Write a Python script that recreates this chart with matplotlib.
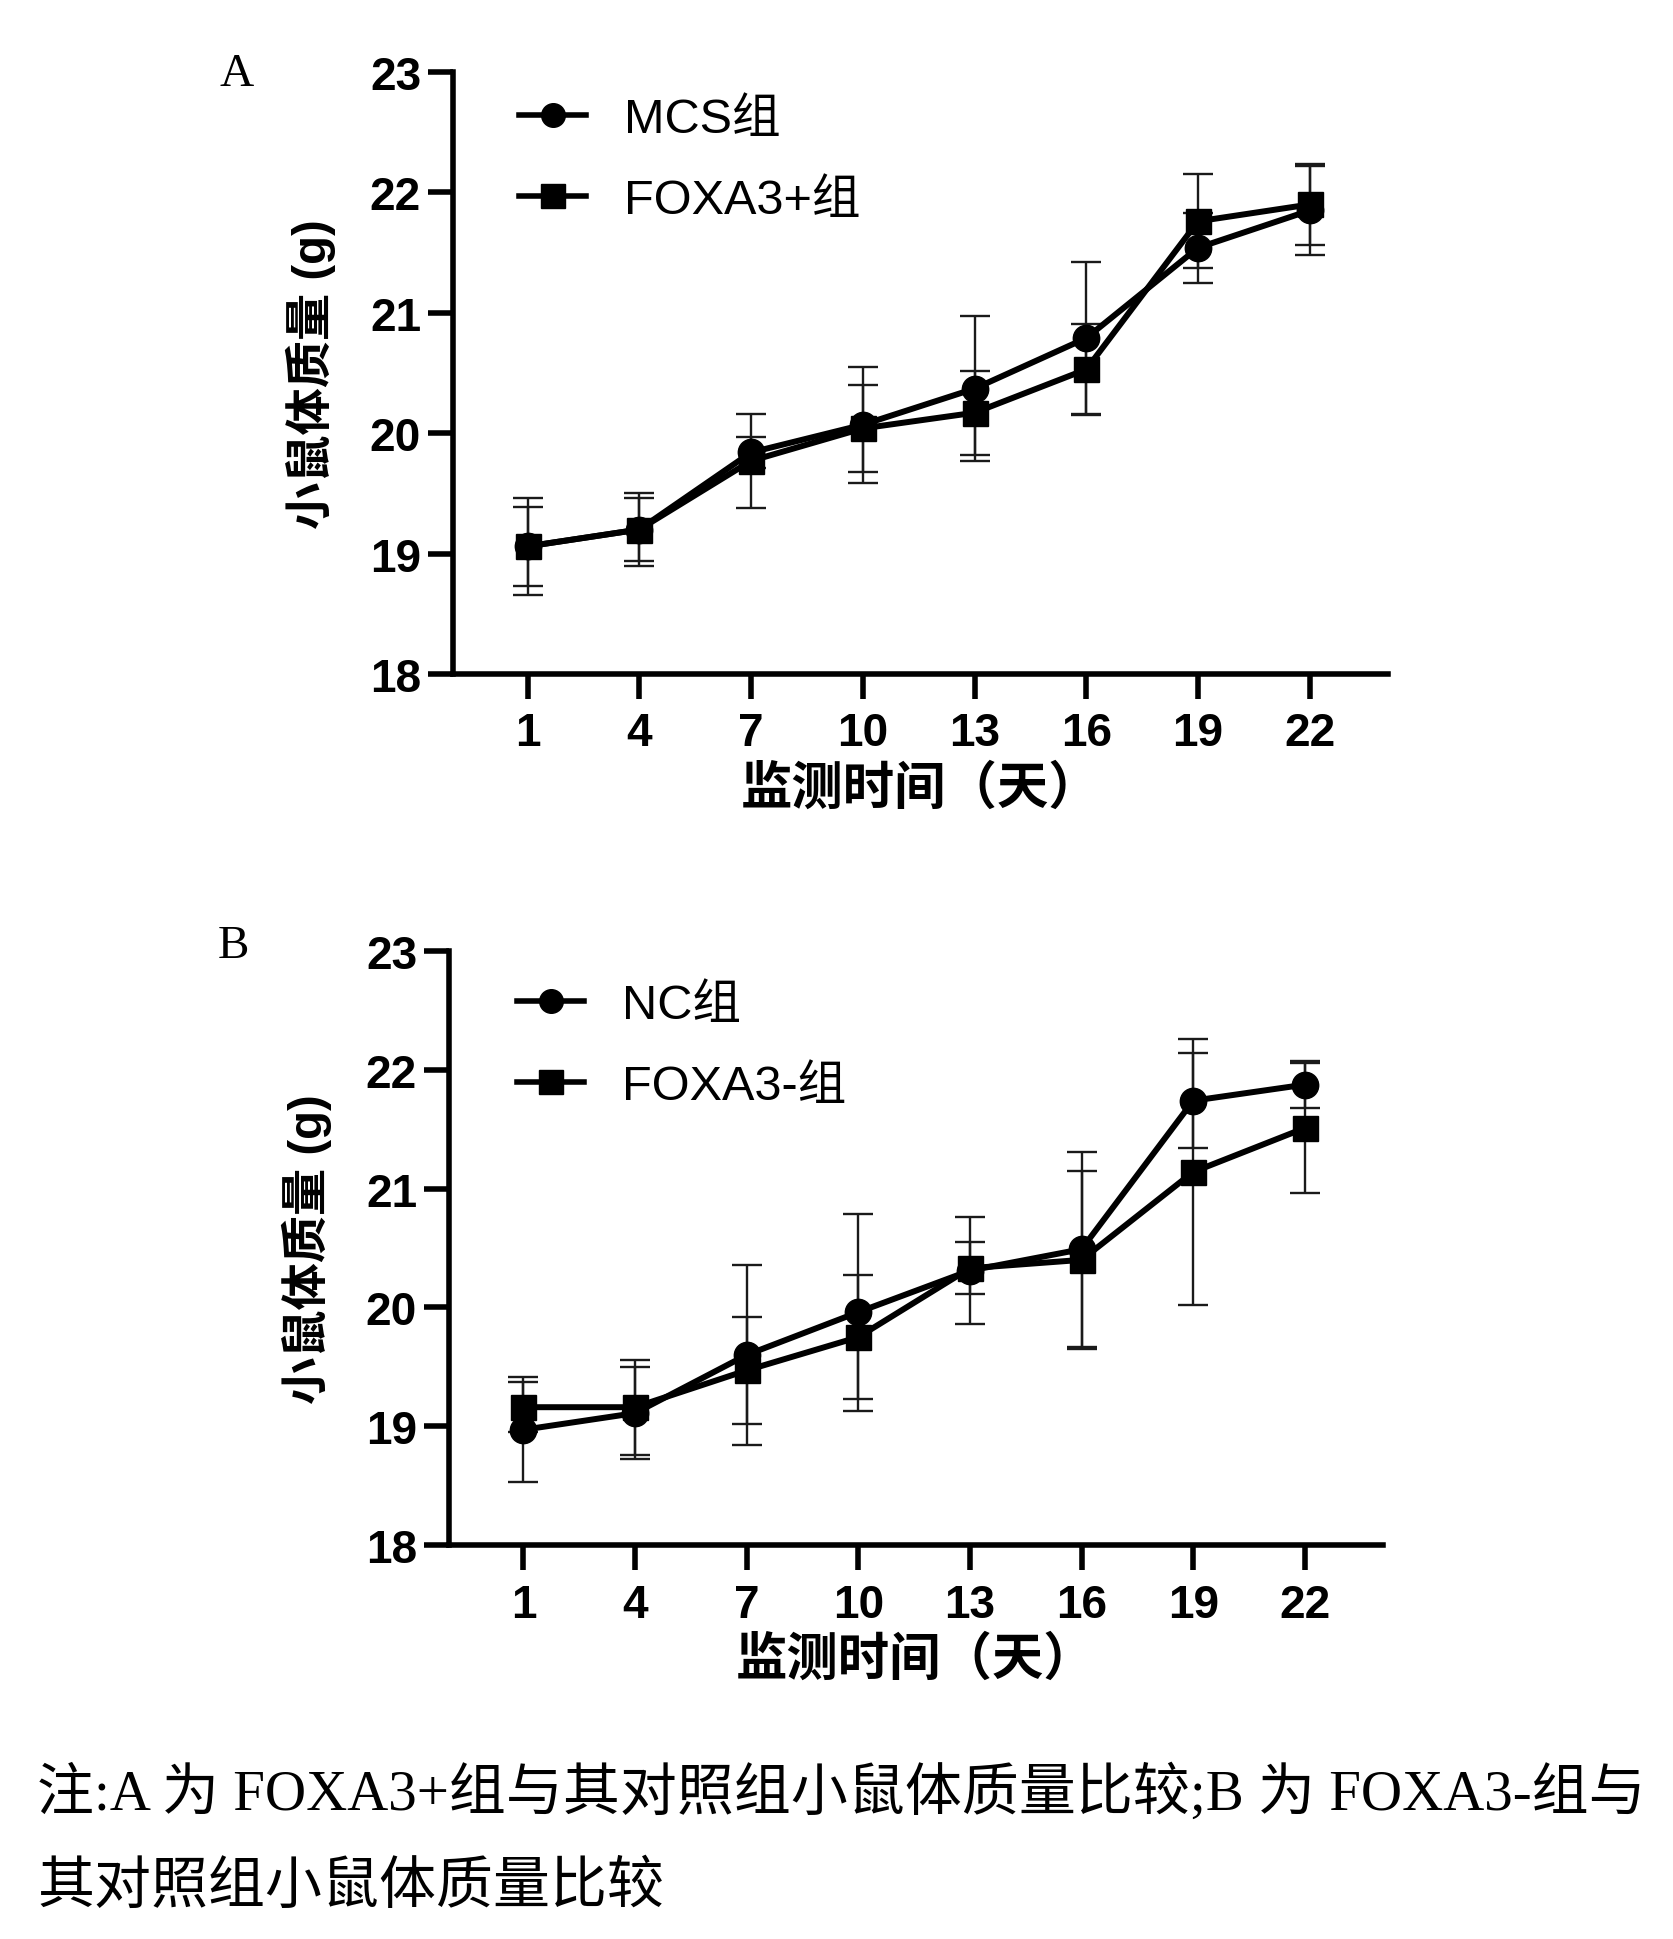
import matplotlib
matplotlib.use("Agg")
import matplotlib.pyplot as plt

# ---------------- data ----------------
days = [1, 4, 7, 10, 13, 16, 19, 22]
day_labels = ["1", "4", "7", "10", "13", "16", "19", "22"]

# Panel A
mcs_mean = [19.06, 19.20, 19.84, 20.07, 20.37, 20.79, 21.54, 21.85]
mcs_sd = [0.40, 0.30, 0.13, 0.48, 0.60, 0.63, 0.29, 0.37]
foxa3p_mean = [19.06, 19.20, 19.77, 20.04, 20.17, 20.53, 21.76, 21.90]
foxa3p_sd = [0.33, 0.26, 0.39, 0.36, 0.35, 0.38, 0.39, 0.34]

# Panel B
nc_mean = [18.97, 19.11, 19.60, 19.96, 20.31, 20.49, 21.74, 21.875]
nc_sd = [0.44, 0.39, 0.76, 0.83, 0.45, 0.82, 0.40, 0.20]
foxa3m_mean = [19.16, 19.16, 19.47, 19.75, 20.33, 20.40, 21.14, 21.51]
foxa3m_sd = [0.21, 0.40, 0.45, 0.52, 0.22, 0.75, 1.12, 0.55]

yticks = [18, 19, 20, 21, 22, 23]
labels_A = ["MCS组", "FOXA3+组"]
labels_B = ["NC组", "FOXA3-组"]
xlabel = "监测时间（天）"
ylabel = "小鼠体质量 (g)"
caption1 = "注:A 为 FOXA3+组与其对照组小鼠体质量比较;B 为 FOXA3-组与"
caption2 = "其对照组小鼠体质量比较"

# ---------------- style ----------------
SANS = ["Liberation Sans", "Noto Sans CJK SC"]
SERIF = ["Liberation Serif", "Noto Sans CJK SC"]
plt.rcParams["font.family"] = SANS

W, H = 1674, 1940
fig = plt.figure(figsize=(W / 100, H / 100), dpi=100)


def make_panel(rect, m1, s1, m2, s2, labels, legend_xy, letter, letter_xy):
    ax = fig.add_axes(rect)
    for m, s in ((m1, s1), (m2, s2)):
        ax.errorbar(days, m, yerr=s, fmt="none", ecolor="#1a1a1a",
                    elinewidth=1.7, capsize=11, capthick=1.7, zorder=2)
    ax.plot(days, m1, "-o", color="black", lw=4.3, ms=19, label=labels[0], zorder=3)
    ax.plot(days, m2, "-s", color="black", lw=4.3, ms=18, label=labels[1], zorder=3)

    ax.set_xlim(-1, 24.1)
    ax.set_ylim(18, 23)
    ax.set_xticks(days)
    ax.set_xticklabels(day_labels)
    ax.set_yticks(yticks)
    ax.set_yticklabels([str(v) for v in yticks])
    for side in ("top", "right"):
        ax.spines[side].set_visible(False)
    for side in ("left", "bottom"):
        ax.spines[side].set_linewidth(4)
    ax.tick_params(axis="both", width=4, length=18, labelsize=33)
    ax.tick_params(axis="y", pad=5)
    ax.tick_params(axis="x", pad=9)
    for t in ax.get_xticklabels() + ax.get_yticklabels():
        t.set_fontweight("bold")
        t.set_family("Liberation Sans")

    ax.set_xlabel(xlabel, fontsize=37, fontweight="bold", labelpad=6)
    ax.set_ylabel(ylabel, fontsize=34, fontweight="bold", labelpad=24)

    leg = ax.legend(loc="upper left", bbox_to_anchor=legend_xy,
                    bbox_transform=fig.transFigure, frameon=False,
                    fontsize=35, handlelength=1.38, handletextpad=0.78,
                    labelspacing=0.75, borderpad=0, borderaxespad=0)
    for h in leg.legend_handles:
        h.set_markersize(17)
        h.set_linewidth(4)

    fig.text(letter_xy[0], letter_xy[1], letter, family="Liberation Serif",
             fontsize=34, ha="center", va="center")
    return ax


make_panel([453 / W, 1 - 675 / H, 935 / W, 602 / H],
           mcs_mean, mcs_sd, foxa3p_mean, foxa3p_sd, labels_A,
           (519 / W, 1 - 98 / H), "A", (237 / W, 1 - 75 / H))
make_panel([449 / W, 1 - 1546 / H, 934 / W, 594 / H],
           nc_mean, nc_sd, foxa3m_mean, foxa3m_sd, labels_B,
           (517 / W, 1 - 984 / H), "B", (233 / W, 1 - 947 / H))

fig.text(37 / W, 1 - 1793 / H, caption1, family=SERIF, fontsize=41,
         ha="left", va="center")
fig.text(37 / W, 1 - 1888 / H, caption2, family=SERIF, fontsize=41,
         ha="left", va="center")

fig.savefig("out.png", dpi=100, facecolor="white")
